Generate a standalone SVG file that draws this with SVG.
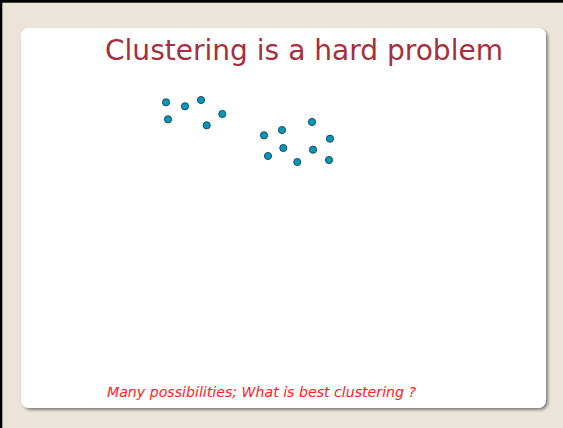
<svg xmlns="http://www.w3.org/2000/svg" width="563" height="428" viewBox="0 0 563 428">
<defs>
<filter id="sh" x="-5%" y="-5%" width="110%" height="110%">
<feGaussianBlur in="SourceAlpha" stdDeviation="1.5"/>
<feOffset dx="1.5" dy="2" result="o"/>
<feComponentTransfer><feFuncA type="linear" slope="0.45"/></feComponentTransfer>
<feMerge><feMergeNode/><feMergeNode in="SourceGraphic"/></feMerge>
</filter>
</defs>
<style>
.pt{fill:#0099bb;stroke:#1f3f4f;stroke-width:0.9}
.title{font-family:"DejaVu Sans",Verdana,sans-serif;font-size:28px;fill:#a3303c}
.note{font-family:"DejaVu Sans",Verdana,sans-serif;font-size:13.5px;font-style:italic;fill:#ff2020}
</style>
<rect x="0" y="0" width="563" height="428" fill="#ebe4da"/>
<rect x="0" y="0" width="563" height="2.7" fill="#000"/>
<rect x="0" y="0" width="2.3" height="428" fill="#000"/>
<g id="card">
<rect x="21" y="28" width="525" height="380" rx="8" fill="#fff" filter="url(#sh)"/>
</g>
<g id="title"><text class="title" x="105" y="59.5" textLength="398" lengthAdjust="spacingAndGlyphs">Clustering is a hard problem</text></g>
<g id="points">
<circle class="pt" cx="166" cy="102.3" r="3.6"/>
<circle class="pt" cx="185" cy="106.3" r="3.6"/>
<circle class="pt" cx="201" cy="100" r="3.6"/>
<circle class="pt" cx="168" cy="119.3" r="3.6"/>
<circle class="pt" cx="206.7" cy="125.3" r="3.6"/>
<circle class="pt" cx="222.3" cy="114" r="3.6"/>
<circle class="pt" cx="264" cy="135.3" r="3.6"/>
<circle class="pt" cx="282" cy="130" r="3.6"/>
<circle class="pt" cx="312" cy="122" r="3.6"/>
<circle class="pt" cx="330" cy="138.7" r="3.6"/>
<circle class="pt" cx="283.3" cy="148" r="3.6"/>
<circle class="pt" cx="313" cy="149.7" r="3.6"/>
<circle class="pt" cx="268" cy="156" r="3.6"/>
<circle class="pt" cx="297.3" cy="162" r="3.6"/>
<circle class="pt" cx="329" cy="160" r="3.6"/>
</g>
<g id="connectors"/>
<g id="caption"><text class="note" x="107" y="397" textLength="309" lengthAdjust="spacingAndGlyphs">Many possibilities; What is best clustering ?</text></g>
</svg>
